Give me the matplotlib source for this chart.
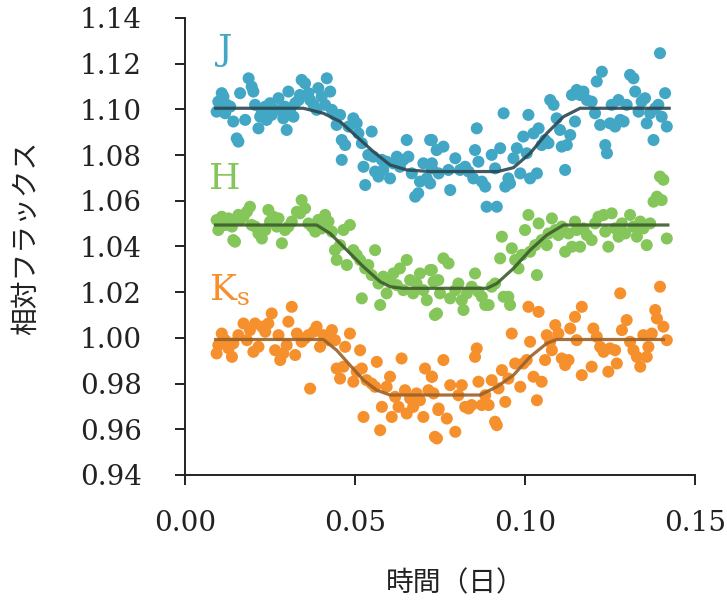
import matplotlib
matplotlib.use("Agg")
import matplotlib.pyplot as plt

plt.rcParams["mathtext.fontset"] = "dejavuserif"

# ---- J band (blue) ----
j_x = [0.0093, 0.0098, 0.0108, 0.0113, 0.0123, 0.0118, 0.0133, 0.0142, 0.0152, 0.0157,
       0.0162, 0.0177, 0.0187, 0.0196, 0.0201, 0.0206, 0.0216, 0.0221, 0.0226, 0.0236,
       0.0240, 0.0250, 0.0255, 0.0265, 0.0275, 0.0280, 0.0289, 0.0294, 0.0299, 0.0304,
       0.0309, 0.0319, 0.0324, 0.0334, 0.0338, 0.0343, 0.0353, 0.0363, 0.0368, 0.0378,
       0.0387, 0.0392, 0.0402, 0.0412, 0.0417, 0.0427, 0.0432, 0.0441, 0.0446, 0.0456,
       0.0461, 0.0461, 0.0471, 0.0481, 0.0495, 0.0505, 0.0510, 0.0520, 0.0525, 0.0530,
       0.0539, 0.0549, 0.0554, 0.0559, 0.0569, 0.0579, 0.0583, 0.0593, 0.0603, 0.0613,
       0.0623, 0.0632, 0.0642, 0.0652, 0.0657, 0.0667, 0.0677, 0.0686, 0.0691, 0.0701,
       0.0711, 0.0721, 0.0726, 0.0740,
       0.0726, 0.0726, 0.0721, 0.0746, 0.0760, 0.0775, 0.0780, 0.0795, 0.0809, 0.0824,
       0.0834, 0.0848, 0.0853, 0.0858, 0.0863, 0.0873, 0.0883, 0.0887, 0.0902, 0.0912,
       0.0917, 0.0927, 0.0937, 0.0942, 0.0951, 0.0956, 0.0966, 0.0976, 0.0986, 0.0995,
       0.1005, 0.1010, 0.1015, 0.1025, 0.1035, 0.1040, 0.1049, 0.1059, 0.1069, 0.1074,
       0.1084, 0.1093, 0.1103, 0.1108, 0.1118, 0.1123, 0.1133, 0.1138, 0.1147, 0.1152,
       0.1162, 0.1172, 0.1182, 0.1196, 0.1206, 0.1211, 0.1221, 0.1226, 0.1236, 0.1241,
       0.1250, 0.1255, 0.1265, 0.1275, 0.1280, 0.1290, 0.1299, 0.1309, 0.1319, 0.1324,
       0.1334, 0.1343, 0.1353, 0.1358, 0.1368, 0.1378, 0.1383, 0.1392, 0.1397, 0.1402,
       0.1412, 0.1417]
j_y = [1.0990, 1.1034, 1.1071, 1.1056, 1.1020, 1.0983, 1.1012, 1.0947, 1.0873, 1.0859,
       1.1071, 1.0954, 1.1136, 1.1100, 1.1078, 1.1020, 1.0917, 1.0968, 1.0990, 1.1012,
       1.0954, 1.1027, 1.0976, 1.0998, 1.1049, 1.0998, 1.0961, 1.1012, 1.0910, 1.1078,
       1.0990, 1.0968, 1.1027, 1.1041, 1.1063, 1.1129, 1.1114, 1.1071, 1.1041, 1.1020,
       1.0998, 1.1093, 1.1056, 1.1020, 1.1136, 1.1078, 1.0998, 1.0976, 1.0932, 1.0976,
       1.0866, 1.0779, 1.0844, 1.0925, 1.0961, 1.0939, 1.0895, 1.0852, 1.0749, 1.0669,
       1.0801, 1.0903, 1.0793, 1.0728, 1.0706, 1.0779, 1.0735, 1.0771, 1.0698, 1.0764,
       1.0793, 1.0749, 1.0779, 1.0866, 1.0793, 1.0720, 1.0618, 1.0633, 1.0684, 1.0764,
       1.0698, 1.0866, 1.0764, 1.0822,
       1.0866, 1.0742, 1.0676, 1.0720, 1.0837, 1.0735, 1.0647, 1.0786, 1.0735, 1.0749,
       1.0728, 1.0698, 1.0822, 1.0917, 1.0771, 1.0684, 1.0662, 1.0574, 1.0801, 1.0742,
       1.0574, 1.0830, 1.0983, 1.0662, 1.0698, 1.0676, 1.0786, 1.0830, 1.0720, 1.0881,
       1.0808, 1.0976, 1.0698, 1.0895, 1.0720, 1.0917, 1.0844, 1.0866, 1.0852, 1.1041,
       1.1020, 1.0961, 1.0910, 1.0837, 1.0735, 1.0844, 1.0888, 1.1063, 1.0947, 1.1085,
       1.1063, 1.1078, 1.1041, 1.1034, 1.0983, 1.1122, 1.0932, 1.1165, 1.0844, 1.0808,
       1.0939, 1.1020, 1.0925, 1.1041, 1.0954, 1.0947, 1.1020, 1.1151, 1.1136, 1.1078,
       1.0990, 1.1034, 1.1049, 1.0939, 1.0983, 1.0866, 1.1005, 1.1020, 1.1246, 1.0968,
       1.1071, 1.0925]

# ---- H band (green) ----
h_x = [0.0093, 0.0098, 0.0108, 0.0118, 0.0128, 0.0138, 0.0142, 0.0147, 0.0157, 0.0162,
       0.0172, 0.0182, 0.0191, 0.0196, 0.0206, 0.0216, 0.0226, 0.0236, 0.0245, 0.0250,
       0.0260, 0.0270, 0.0275, 0.0285, 0.0294, 0.0304, 0.0314, 0.0329, 0.0338, 0.0343,
       0.0353, 0.0363, 0.0373, 0.0383, 0.0392, 0.0402, 0.0412, 0.0422, 0.0432, 0.0441,
       0.0446, 0.0456, 0.0466, 0.0476, 0.0485, 0.0495, 0.0505, 0.0515, 0.0520, 0.0530,
       0.0539, 0.0549, 0.0559, 0.0569, 0.0574, 0.0583, 0.0593, 0.0603, 0.0613, 0.0623,
       0.0632, 0.0642, 0.0652, 0.0662, 0.0671, 0.0681, 0.0691, 0.0701, 0.0711, 0.0721,
       0.0735, 0.0745,
       0.0726, 0.0731, 0.0741, 0.0750, 0.0760, 0.0775, 0.0780, 0.0795, 0.0804, 0.0814,
       0.0819, 0.0829, 0.0843, 0.0853, 0.0863, 0.0873, 0.0883, 0.0893, 0.0902, 0.0912,
       0.0927, 0.0932, 0.0937, 0.0951, 0.0956, 0.0961, 0.0971, 0.0981, 0.0991, 0.1000,
       0.1010, 0.1015, 0.1030, 0.1035, 0.1040, 0.1049, 0.1064, 0.1069, 0.1079, 0.1089,
       0.1098, 0.1108, 0.1118, 0.1128, 0.1138, 0.1147, 0.1152, 0.1162, 0.1172, 0.1182,
       0.1196, 0.1206, 0.1216, 0.1231, 0.1236, 0.1245, 0.1255, 0.1265, 0.1275, 0.1285,
       0.1295, 0.1309, 0.1319, 0.1329, 0.1339, 0.1348, 0.1358, 0.1368, 0.1378, 0.1388,
       0.1402, 0.1397, 0.1407, 0.1417]
h_y = [1.0516, 1.0472, 1.0530, 1.0494, 1.0523, 1.0487, 1.0428, 1.0421, 1.0538, 1.0516,
       1.0530, 1.0552, 1.0574, 1.0494, 1.0487, 1.0457, 1.0435, 1.0472, 1.0560, 1.0509,
       1.0530, 1.0487, 1.0523, 1.0414, 1.0472, 1.0487, 1.0509, 1.0552, 1.0545, 1.0603,
       1.0567, 1.0501, 1.0487, 1.0465, 1.0516, 1.0479, 1.0538, 1.0509, 1.0465, 1.0384,
       1.0341, 1.0406, 1.0472, 1.0319, 1.0494, 1.0384, 1.0363, 1.0341, 1.0173, 1.0304,
       1.0319, 1.0275, 1.0384, 1.0238, 1.0144, 1.0268, 1.0195, 1.0253, 1.0282, 1.0231,
       1.0304, 1.0209, 1.0341, 1.0253, 1.0195, 1.0238, 1.0282, 1.0209, 1.0165, 1.0297,
       1.0100, 1.0253,
       1.0297, 1.0246, 1.0107, 1.0195, 1.0348, 1.0326, 1.0173, 1.0209, 1.0238, 1.0165,
       1.0122, 1.0195, 1.0224, 1.0282, 1.0202, 1.0180, 1.0144, 1.0144, 1.0224, 1.0238,
       1.0348, 1.0443, 1.0180, 1.0180, 1.0144, 1.0392, 1.0341, 1.0304, 1.0363, 1.0472,
       1.0538, 1.0377, 1.0406, 1.0275, 1.0501, 1.0428, 1.0406, 1.0457, 1.0523, 1.0472,
       1.0450, 1.0487, 1.0377, 1.0457, 1.0399, 1.0509, 1.0472, 1.0399, 1.0479, 1.0450,
       1.0428, 1.0501, 1.0530, 1.0538, 1.0465, 1.0399, 1.0545, 1.0479, 1.0443, 1.0501,
       1.0457, 1.0538, 1.0487, 1.0443, 1.0509, 1.0479, 1.0406, 1.0501, 1.0596, 1.0618,
       1.0603, 1.0706, 1.0692, 1.0435]

# ---- Ks band (orange) ----
k_x = [0.0093, 0.0098, 0.0108, 0.0118, 0.0128, 0.0138, 0.0142, 0.0157, 0.0172, 0.0182,
       0.0191, 0.0201, 0.0206, 0.0216, 0.0226, 0.0236, 0.0245, 0.0255, 0.0265, 0.0275,
       0.0280, 0.0289, 0.0299, 0.0304, 0.0314, 0.0324, 0.0329, 0.0343, 0.0353, 0.0363,
       0.0368, 0.0378, 0.0387, 0.0397, 0.0407, 0.0422, 0.0432, 0.0441, 0.0446, 0.0456,
       0.0466, 0.0471, 0.0485, 0.0495, 0.0505, 0.0515, 0.0520, 0.0525, 0.0534, 0.0549,
       0.0559, 0.0564, 0.0574, 0.0579, 0.0593, 0.0603, 0.0608, 0.0618, 0.0628, 0.0637,
       0.0647, 0.0652, 0.0662, 0.0671, 0.0681, 0.0691, 0.0701, 0.0706, 0.0716, 0.0726,
       0.0735, 0.0745,
       0.0726, 0.0731, 0.0746, 0.0741, 0.0760, 0.0770, 0.0780, 0.0795, 0.0804, 0.0814,
       0.0824, 0.0834, 0.0843, 0.0853, 0.0858, 0.0863, 0.0873, 0.0883, 0.0893, 0.0902,
       0.0912, 0.0917, 0.0922, 0.0932, 0.0942, 0.0951, 0.0961, 0.0971, 0.0986, 0.0995,
       0.1005, 0.1015, 0.1010, 0.1025, 0.1035, 0.1040, 0.1049, 0.1059, 0.1064, 0.1074,
       0.1079, 0.1089, 0.1098, 0.1108, 0.1118, 0.1128, 0.1133, 0.1147, 0.1152, 0.1167,
       0.1167, 0.1196, 0.1201, 0.1211, 0.1221, 0.1231, 0.1245, 0.1250, 0.1265, 0.1270,
       0.1280, 0.1285, 0.1299, 0.1309, 0.1319, 0.1329, 0.1339, 0.1348, 0.1358, 0.1363,
       0.1373, 0.1383, 0.1388, 0.1397, 0.1407, 0.1417]
k_y = [0.9932, 0.9968, 1.0019, 0.9990, 0.9954, 0.9917, 0.9976, 1.0012, 1.0063, 0.9990,
       1.0034, 0.9939, 1.0063, 0.9961, 1.0049, 1.0027, 1.0063, 1.0107, 0.9946, 1.0012,
       0.9903, 0.9932, 0.9968, 1.0071, 1.0136, 0.9925, 1.0019, 0.9983, 0.9998, 1.0012,
       0.9778, 1.0027, 1.0049, 0.9961, 1.0012, 0.9990, 1.0034, 0.9990, 0.9866, 0.9822,
       0.9874, 0.9961, 1.0019, 0.9808, 0.9852, 0.9946, 0.9866, 0.9654, 0.9815, 0.9800,
       0.9786, 0.9895, 0.9596, 0.9698, 0.9786, 0.9830, 0.9654, 0.9742, 0.9698, 0.9910,
       0.9771, 0.9669, 0.9735, 0.9698, 0.9757, 0.9727, 0.9654, 0.9866, 0.9771, 0.9830,
       0.9567, 0.9684,
       0.9830, 0.9757, 0.9691, 0.9560, 0.9903, 0.9647, 0.9793, 0.9589, 0.9749, 0.9793,
       0.9698, 0.9691, 0.9706, 0.9917, 0.9954, 0.9808, 0.9706, 0.9749, 0.9706, 0.9815,
       0.9633, 0.9618, 0.9779, 0.9859, 0.9720, 0.9822, 1.0019, 0.9888, 0.9786, 0.9888,
       0.9903, 0.9983, 1.0136, 0.9830, 0.9727, 1.0114, 0.9808, 0.9903, 1.0012, 0.9983,
       0.9946, 1.0056, 1.0019, 0.9910, 0.9881, 0.9903, 1.0041, 1.0092, 0.9990, 1.0136,
       0.9837, 0.9874, 1.0041, 1.0005, 0.9961, 0.9939, 0.9852, 0.9954, 0.9946, 0.9888,
       1.0195, 1.0034, 1.0078, 0.9983, 0.9946, 0.9917, 0.9874, 1.0012, 0.9917, 0.9961,
       1.0019, 1.0122, 1.0085, 1.0224, 1.0049, 0.9990]

# ---- model curves ----
jm_x = [0.0090, 0.0348, 0.0407, 0.0456, 0.0505, 0.0554, 0.0603, 0.0652, 0.0720,
        0.0920, 0.0966, 0.1015, 0.1064, 0.1113, 0.1162, 0.1424]
jm_y = [1.1005, 1.1005, 1.0983, 1.0947, 1.0881, 1.0815, 1.0757, 1.0735, 1.0728,
        1.0728, 1.0745, 1.0808, 1.0895, 1.0968, 1.1005, 1.1005]
hm_x = [0.0090, 0.0387, 0.0427, 0.0476, 0.0525, 0.0574, 0.0603, 0.0640,
        0.0888, 0.0917, 0.0966, 0.1015, 0.1064, 0.1113, 0.1420]
hm_y = [1.0494, 1.0494, 1.0457, 1.0384, 1.0311, 1.0246, 1.0224, 1.0217,
        1.0217, 1.0238, 1.0304, 1.0384, 1.0450, 1.0494, 1.0494]
km_x = [0.0090, 0.0407, 0.0446, 0.0485, 0.0525, 0.0564, 0.0603,
        0.0868, 0.0917, 0.0966, 0.1015, 0.1064, 0.1093, 0.1407]
km_y = [0.9993, 0.9993, 0.9946, 0.9881, 0.9815, 0.9771, 0.9750,
        0.9750, 0.9786, 0.9837, 0.9917, 0.9976, 0.9993, 0.9993]

C_J, C_H, C_K = "#42a6c5", "#84c65a", "#f5902d"
L_J, L_H, L_K = "#2c4752", "#3d5c2c", "#9a6128"

fig = plt.figure(figsize=(7.27, 6.06), dpi=100)
ax = fig.add_axes([0.2545, 0.2162, 0.7015, 0.7541])

for xs, ys, c in [(j_x, j_y, C_J), (h_x, h_y, C_H), (k_x, k_y, C_K)]:
    ax.scatter(xs, ys, s=75, color=c, edgecolors="none", zorder=2)
for xs, ys, c in [(jm_x, jm_y, L_J), (hm_x, hm_y, L_H), (km_x, km_y, L_K)]:
    ax.plot(xs, ys, color=c, lw=2.3, alpha=0.9, zorder=3)

serif = "DejaVu Serif"
ax.text(0.0097, 1.1334, "J", color=C_J, fontsize=26, family=serif, va="top", ha="left")
ax.text(0.0070, 1.0770, "H", color=C_H, fontsize=26, family=serif, va="top", ha="left")
ax.text(0.0070, 1.0288, r"$\mathrm{K}_\mathrm{s}$", color=C_K, fontsize=26, va="top", ha="left")

ax.set_xlim(0, 0.15)
ax.set_ylim(0.94, 1.14)
ax.set_xticks([0.00, 0.05, 0.10, 0.15])
ax.set_yticks([0.94, 0.96, 0.98, 1.00, 1.02, 1.04, 1.06, 1.08, 1.10, 1.12, 1.14])
ax.xaxis.set_major_formatter(matplotlib.ticker.FormatStrFormatter("%.2f"))
ax.yaxis.set_major_formatter(matplotlib.ticker.FormatStrFormatter("%.2f"))
for s in ["top", "right"]:
    ax.spines[s].set_visible(False)
for s in ["left", "bottom"]:
    ax.spines[s].set_color("#222222")
    ax.spines[s].set_linewidth(1.4)
ax.tick_params(axis="y", direction="out", length=7, width=1.4, color="#222222", pad=24)
ax.tick_params(axis="x", direction="out", length=7, width=1.4, color="#222222", pad=18)
for lab in ax.get_xticklabels() + ax.get_yticklabels():
    lab.set_family(serif)
    lab.set_fontsize(20)
    lab.set_color("#222222")

cjk = ["Noto Sans CJK JP", "DejaVu Sans"]
fig.text(26 / 727, 1 - 238 / 606, "相対フラックス", rotation=90, fontsize=20,
         family=cjk, ha="center", va="center", color="#222222")
fig.text(455 / 727, 1 - 583 / 606, "時間（日）", fontsize=20,
         family=cjk, ha="center", va="center", color="#222222")

fig.savefig("out.png", dpi=100)
